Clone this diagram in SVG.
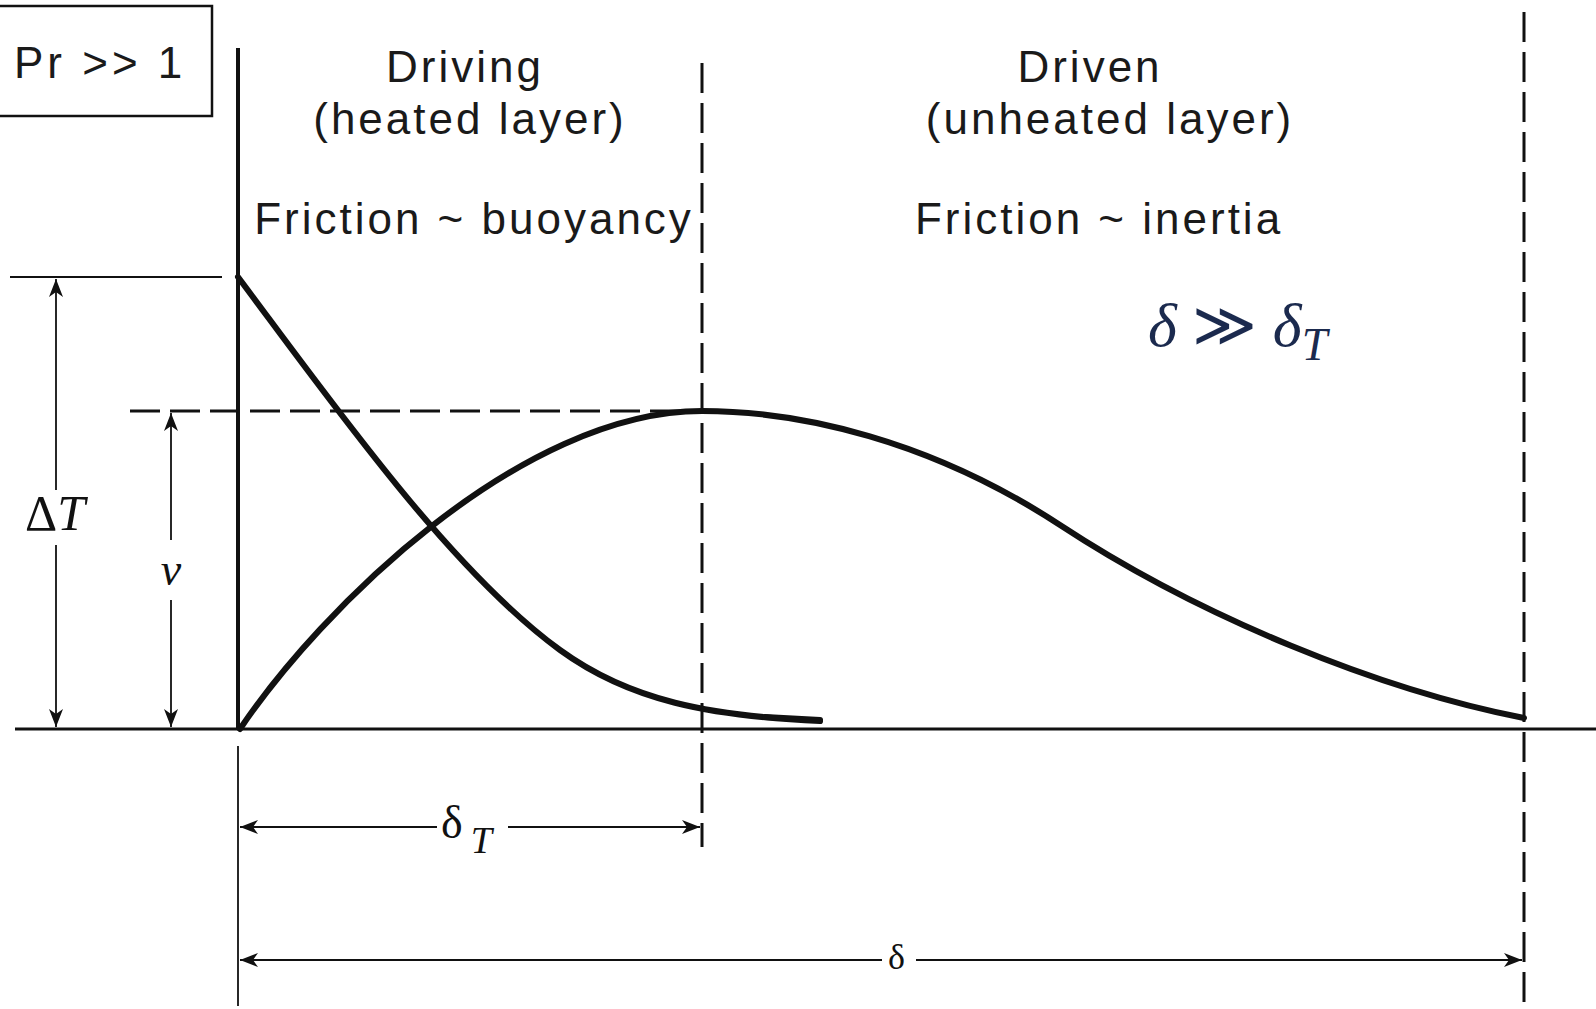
<svg xmlns="http://www.w3.org/2000/svg" width="1596" height="1009" viewBox="0 0 1596 1009">
<style>
.lbl{font-family:"Liberation Sans",Arial,sans-serif;font-size:44px;fill:#1a1a1a;letter-spacing:3px;text-anchor:middle}
.math{font-family:"Liberation Serif","Times New Roman",serif;fill:#111}
.it{font-style:italic}
.thick{stroke:#111;stroke-width:6;fill:none;stroke-linecap:round}
.axis{stroke:#111;stroke-width:4;fill:none}
.base{stroke:#111;stroke-width:3;fill:none}
.thin{stroke:#111;stroke-width:1.8;fill:none}
.dash{stroke:#111;stroke-width:3;fill:none;stroke-dasharray:30 10}
</style>
<defs>
<marker id="arrE" markerUnits="userSpaceOnUse" markerWidth="20" markerHeight="14" refX="18" refY="7" orient="auto">
<path d="M18,7 L0,0 L5,7 L0,14 Z" fill="#111"/>
</marker>
<marker id="arrS" markerUnits="userSpaceOnUse" markerWidth="20" markerHeight="14" refX="18" refY="7" orient="auto-start-reverse">
<path d="M18,7 L0,0 L5,7 L0,14 Z" fill="#111"/>
</marker>
</defs>

<g id="pr-box">
<rect x="-10" y="6" width="222" height="110" fill="none" stroke="#111" stroke-width="2.5"/>
<text x="14" y="78" style="font-family:'Liberation Sans',Arial,sans-serif;font-size:44px;fill:#1a1a1a;letter-spacing:4px">Pr &gt;&gt; 1</text>
</g>

<g id="axes">
<line class="axis" x1="238" y1="48" x2="238" y2="729"/>
<line class="thin" x1="238" y1="746" x2="238" y2="1006"/>
<line class="base" x1="15" y1="729" x2="1596" y2="729"/>
<line class="thin" x1="10" y1="277" x2="222" y2="277"/>
<line class="dash" x1="130" y1="411" x2="700" y2="411" stroke-width="2.5"/>
<line class="dash" x1="702" y1="63" x2="702" y2="847" stroke-width="2.5"/>
<line class="dash" x1="1524" y1="12" x2="1524" y2="1009" stroke-dasharray="26 8"/>
</g>

<g id="curves">
<path id="temperature" class="thick" d="M238,277 C330,400 450,570 560,650 C630,701 710,716 820,721"/>
<path class="thick" d="M765,717 L820,720" stroke-width="10"/>
<path id="velocity" class="thick" d="M240,729 C320,610 520,411 702,411 C800,411 930,440 1060,525 C1200,617 1380,690 1524,718"/>
</g>

<g id="connectors">
<line class="thin" x1="56" y1="279" x2="56" y2="490" marker-start="url(#arrS)"/>
<line class="thin" x1="56" y1="545" x2="56" y2="727" marker-end="url(#arrE)"/>
<line class="thin" x1="171" y1="413" x2="171" y2="540" marker-start="url(#arrS)"/>
<line class="thin" x1="171" y1="600" x2="171" y2="727" marker-end="url(#arrE)"/>
<line class="thin" x1="240" y1="827" x2="437" y2="827" marker-start="url(#arrS)"/>
<line class="thin" x1="508" y1="827" x2="700" y2="827" marker-end="url(#arrE)"/>
<line class="thin" x1="240" y1="960" x2="882" y2="960" marker-start="url(#arrS)"/>
<line class="thin" x1="916" y1="960" x2="1522" y2="960" marker-end="url(#arrE)"/>
</g>

<g id="driving-labels">
<text class="lbl" x="465" y="82">Driving</text>
<text class="lbl" x="470" y="134">(heated layer)</text>
<text class="lbl" x="474" y="234">Friction ~ buoyancy</text>
</g>

<g id="driven-labels">
<text class="lbl" x="1090" y="82">Driven</text>
<text class="lbl" x="1110" y="134">(unheated layer)</text>
<text class="lbl" x="1099" y="234">Friction ~ inertia</text>
</g>

<g id="math-labels">
<text class="math" x="1148" y="346" font-size="62" style="fill:#1b2a4e"><tspan class="it">δ</tspan> ≫ <tspan class="it">δ</tspan><tspan class="it" font-size="46" dy="14">T</tspan></text>
<text class="math" x="25" y="530" font-size="50">Δ<tspan class="it">T</tspan></text>
<text class="math it" x="171" y="585" font-size="46" text-anchor="middle">v</text>
<text class="math" x="441" y="838" font-size="46">δ<tspan class="it" font-size="38" dx="8" dy="15">T</tspan></text>
<text class="math" x="888" y="969" font-size="36">δ</text>
</g>
</svg>
